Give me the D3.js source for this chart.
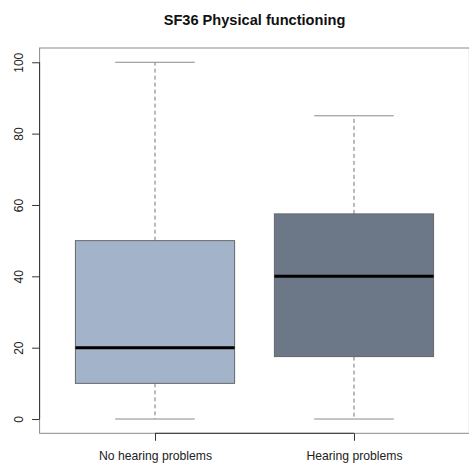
<!DOCTYPE html>
<html><head><meta charset="utf-8">
<script src="https://cdn.jsdelivr.net/npm/d3@7"></script>
<style>body{margin:0;background:#fff}svg{display:block}text{font-family:"Liberation Sans",Arial,Helvetica,sans-serif}</style>
</head><body>
<svg id="c" width="469" height="464"></svg>
<script>
const categories = ["No hearing problems", "Hearing problems"];
const whiskerLow = [0, 0];
const q1 = [10, 17.5];
const median = [20, 40];
const q3 = [50, 57.5];
const whiskerHigh = [100, 85];
const fills = ["#a3b4ca", "#6c7787"];
const yTicks = [0, 20, 40, 60, 80, 100];
const title = "SF36 Physical functioning";

const svg = d3.select("#c");
const pL = 39.6, pR = 469.4, pT = 48, pB = 433.3;
const x = d3.scaleLinear().domain([0.42, 2.58]).range([pL, pR]);
const y = d3.scaleLinear().domain([-4, 104]).range([pB, pT]);

svg.append("rect").attr("x", pL).attr("y", pT).attr("width", pR - pL).attr("height", pB - pT)
  .attr("fill", "none").attr("stroke", "#8a8a8a").attr("stroke-width", 1);

categories.forEach((c, i) => {
  const cx = x(i + 1);
  const hw = x(1.4) - x(1);
  const cw = x(1.2) - x(1);
  svg.append("line").attr("x1", cx).attr("x2", cx).attr("y1", y(q3[i])).attr("y2", y(whiskerHigh[i]))
    .attr("stroke", "#777").attr("stroke-dasharray", "4,3");
  svg.append("line").attr("x1", cx).attr("x2", cx).attr("y1", y(q1[i])).attr("y2", y(whiskerLow[i]))
    .attr("stroke", "#777").attr("stroke-dasharray", "4,3");
  [whiskerHigh[i], whiskerLow[i]].forEach(v => {
    svg.append("line").attr("x1", cx - cw).attr("x2", cx + cw).attr("y1", y(v)).attr("y2", y(v))
      .attr("stroke", "#8a8a8a").attr("stroke-width", 1);
  });
  svg.append("rect").attr("x", cx - hw).attr("width", 2 * hw).attr("y", y(q3[i])).attr("height", y(q1[i]) - y(q3[i]))
    .attr("fill", fills[i]).attr("stroke", "#666").attr("stroke-width", 1);
  svg.append("line").attr("x1", cx - hw).attr("x2", cx + hw).attr("y1", y(median[i])).attr("y2", y(median[i]))
    .attr("stroke", "#000").attr("stroke-width", 3);
});

const yAxis = svg.append("g").attr("transform", `translate(${pL},0)`)
  .call(d3.axisLeft(y).tickValues(yTicks).tickSize(7.5).tickPadding(0).tickFormat(d3.format("d")));
yAxis.select(".domain").attr("d", `M0,${y(0)}V${y(100)}`).attr("stroke", "#333");
yAxis.selectAll(".tick line").attr("stroke", "#333");
yAxis.selectAll(".tick text").attr("font-size", 12).attr("fill", "#222")
  .attr("transform", "translate(-20.5,0) rotate(-90)").attr("x", 0).attr("dy", "0.35em").attr("text-anchor", "middle");

const xAxis = svg.append("g").attr("transform", `translate(0,${pB})`)
  .call(d3.axisBottom(x).tickValues([1, 2]).tickSize(7.5).tickPadding(11).tickFormat((d) => categories[d - 1]));
xAxis.select(".domain").attr("d", `M${x(1)},0H${x(2)}`).attr("stroke", "#333");
xAxis.selectAll(".tick line").attr("stroke", "#333");
xAxis.selectAll(".tick text").attr("font-size", 12.2).attr("fill", "#222");

svg.append("text").attr("x", (pL + pR) / 2).attr("y", 24.5).attr("text-anchor", "middle")
  .attr("font-size", 14.6).attr("font-weight", "bold").attr("fill", "#111").text(title);
</script>
</body></html>
